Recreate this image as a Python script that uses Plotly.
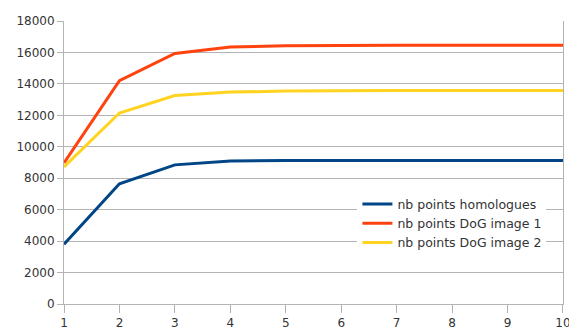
import plotly.graph_objects as go

x_vals = [1, 2, 3, 4, 5, 6, 7, 8, 9, 10]
homologues = [3800, 7650, 8850, 9100, 9120, 9130, 9130, 9130, 9130, 9130]
dog_image1 = [8980, 14200, 15940, 16350, 16420, 16450, 16450, 16450, 16450, 16450]
dog_image2 = [8720, 12150, 13260, 13480, 13540, 13580, 13580, 13580, 13580, 13580]
names = ["nb points homologues", "nb points DoG image 1", "nb points DoG image 2"]
colors = ["#004586", "#ff420e", "#ffd320"]
y_ticks = list(range(0, 18001, 2000))

fig = go.Figure()
for name, ys, c in zip(names, [homologues, dog_image1, dog_image2], colors):
    fig.add_trace(go.Scatter(x=x_vals, y=ys, mode="lines", name=name,
                             line=dict(color=c, width=3)))

fig.update_layout(
    width=569, height=328,
    margin=dict(l=56, r=6, t=10, b=21),
    paper_bgcolor="white", plot_bgcolor="white",
    font=dict(family="DejaVu Sans, sans-serif", size=12, color="#333333"),
    showlegend=True,
    legend=dict(x=0.588, y=0.405, xanchor="left", yanchor="top",
                bgcolor="white", font=dict(size=12.5, color="#333333"),
                itemwidth=30, tracegroupgap=0),
)
fig.update_xaxes(range=[1, 10.0001], tickvals=x_vals, showgrid=False, zeroline=False,
                 showline=True, linecolor="#b3b3b3", linewidth=1,
                 ticks="outside", ticklen=8, tickcolor="#b3b3b3",
                 ticklabeloverflow="allow")
fig.update_yaxes(range=[0, 18000], tickvals=y_ticks, tickformat="d",
                 showgrid=True, gridcolor="#b3b3b3",
                 gridwidth=1, zeroline=False, showline=True, mirror=True,
                 linecolor="#b3b3b3", linewidth=1,
                 ticks="outside", ticklen=6, tickcolor="#b3b3b3")

fig.write_html("out.html")
